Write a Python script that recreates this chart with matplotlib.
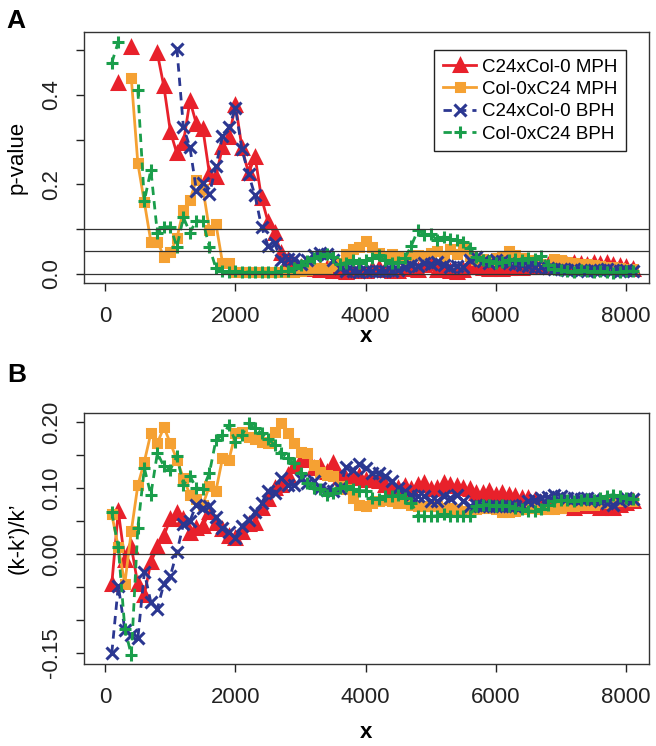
import numpy as np
import matplotlib
matplotlib.use("Agg")
import matplotlib.pyplot as plt

plt.rcParams['font.family'] = ['Liberation Sans', 'DejaVu Sans']

nan = np.nan
x = np.arange(100, 8200, 100)

# panel A: p-values
red_p = [nan, 0.427, nan, 0.507, nan, nan, nan, 0.493, 0.419, 0.318,
         0.269, 0.293, 0.387, 0.335, 0.323, 0.223, 0.217, 0.284, 0.305, 0.378,
         0.281, 0.225, 0.262, 0.169, 0.116, 0.090, 0.047, 0.031, 0.020, 0.015,
         0.012, 0.010, 0.008, 0.012, 0.006, 0.005, 0.004, 0.005, 0.008, 0.006,
         0.010, 0.012, 0.008, 0.005, 0.006, 0.010, 0.012, 0.008, 0.020, 0.025,
         0.008, 0.016, 0.006, 0.004, 0.008, 0.014, 0.016, 0.012, 0.010, 0.012,
         0.010, 0.012, 0.014, 0.012, 0.016, 0.018, 0.015, 0.020, 0.024, 0.022,
         0.020, 0.024, 0.022, 0.020, 0.024, 0.022, 0.025, 0.020, 0.018, 0.014, 0.010]
orange_p = [nan, nan, nan, 0.437, 0.247, 0.160, 0.072, 0.072, 0.038, 0.049,
            0.079, 0.143, 0.165, 0.210, 0.190, 0.098, 0.111, 0.025, 0.025, 0.004,
            0.003, 0.003, 0.003, 0.003, 0.003, 0.003, 0.003, 0.004, 0.004, 0.005,
            0.008, 0.012, 0.012, 0.010, 0.018, 0.025, 0.045, 0.056, 0.060, 0.074,
            0.060, 0.046, 0.040, 0.044, 0.038, 0.034, 0.040, 0.042, 0.040, 0.046,
            0.050, 0.040, 0.055, 0.044, 0.056, 0.040, 0.030, 0.034, 0.030, 0.035,
            0.040, 0.050, 0.042, 0.035, 0.030, 0.028, 0.022, 0.020, 0.032, 0.030,
            0.026, 0.024, 0.022, 0.022, 0.020, 0.018, 0.016, 0.014, 0.012, 0.010, 0.010]
blue_p = [nan, nan, nan, nan, nan, nan, nan, nan, nan, nan,
          0.503, 0.328, 0.283, 0.186, 0.202, 0.178, 0.241, 0.308, 0.328, 0.370,
          0.278, 0.223, 0.175, 0.105, 0.062, 0.068, 0.031, 0.034, 0.032, 0.022,
          0.030, 0.042, 0.046, 0.044, 0.030, 0.012, 0.006, 0.005, 0.004, 0.005,
          0.006, 0.005, 0.007, 0.006, 0.008, 0.015, 0.020, 0.018, 0.024, 0.022,
          0.027, 0.020, 0.016, 0.018, 0.014, 0.030, 0.038, 0.028, 0.025, 0.031,
          0.028, 0.025, 0.022, 0.020, 0.018, 0.016, 0.015, 0.012, 0.010, 0.010,
          0.008, 0.010, 0.008, 0.007, 0.009, 0.008, 0.010, 0.008, 0.007, 0.008, 0.006]
green_p = [0.472, 0.519, nan, nan, 0.410, 0.163, 0.232, 0.090, 0.105, 0.105,
           0.060, 0.126, 0.092, 0.119, 0.117, 0.059, 0.012, 0.005, 0.004, 0.005,
           0.003, 0.004, 0.003, 0.004, 0.003, 0.004, 0.005, 0.006, 0.012, 0.020,
           0.028, 0.035, 0.040, 0.045, 0.038, 0.022, 0.025, 0.030, 0.024, 0.030,
           0.035, 0.042, 0.030, 0.025, 0.026, 0.035, 0.062, 0.097, 0.087, 0.088,
           0.075, 0.083, 0.077, 0.075, 0.072, 0.058, 0.038, 0.030, 0.028, 0.025,
           0.026, 0.030, 0.034, 0.030, 0.036, 0.034, 0.040, 0.020, 0.010, 0.008,
           0.006, 0.004, 0.008, 0.005, 0.003, 0.006, 0.004, 0.002, 0.004, 0.005, 0.006]

# panel B: (k-k')/k'
red_k = [-0.045, 0.065, -0.009, 0.011, -0.046, -0.062, -0.012, 0.010, 0.028, 0.053,
         0.062, 0.053, 0.032, 0.040, 0.043, 0.063, 0.047, 0.038, 0.028, 0.025,
         0.033, 0.045, 0.047, 0.070, 0.083, 0.100, 0.105, 0.120, 0.133, 0.143,
         0.145, 0.130, 0.133, 0.125, 0.138, 0.117, 0.113, 0.115, 0.118, 0.112,
         0.112, 0.110, 0.105, 0.100, 0.100, 0.103, 0.098, 0.105, 0.108, 0.098,
         0.100, 0.108, 0.105, 0.103, 0.100, 0.098, 0.093, 0.093, 0.095, 0.090,
         0.092, 0.090, 0.088, 0.085, 0.085, 0.082, 0.078, 0.075, 0.078, 0.074,
         0.072, 0.070, 0.075, 0.072, 0.074, 0.070, 0.072, 0.070, 0.075, 0.078, 0.080]
orange_k = [0.060, 0.010, -0.045, 0.035, 0.104, 0.140, 0.183, 0.168, 0.192, 0.168,
            0.143, 0.115, 0.090, 0.083, 0.075, 0.103, 0.096, 0.145, 0.143, 0.183,
            0.185, 0.178, 0.175, 0.170, 0.168, 0.185, 0.198, 0.183, 0.168, 0.155,
            0.153, 0.135, 0.125, 0.120, 0.118, 0.103, 0.098, 0.085, 0.075, 0.072,
            0.078, 0.080, 0.082, 0.080, 0.078, 0.078, 0.075, 0.073, 0.073, 0.073,
            0.073, 0.070, 0.070, 0.068, 0.065, 0.065, 0.068, 0.070, 0.070, 0.068,
            0.063, 0.063, 0.065, 0.068, 0.070, 0.070, 0.068, 0.068, 0.068, 0.070,
            0.073, 0.073, 0.074, 0.075, 0.075, 0.077, 0.078, 0.080, 0.080, 0.082, 0.080]
blue_k = [-0.150, -0.048, -0.115, -0.123, -0.128, -0.028, -0.073, -0.083, -0.045, -0.033,
          0.003, 0.045, 0.050, 0.075, 0.069, 0.072, 0.056, 0.040, 0.034, 0.025,
          0.043, 0.052, 0.063, 0.077, 0.095, 0.093, 0.115, 0.105, 0.105, 0.113,
          0.108, 0.110, 0.100, 0.097, 0.095, 0.100, 0.132, 0.127, 0.137, 0.130,
          0.123, 0.123, 0.118, 0.110, 0.100, 0.095, 0.090, 0.088, 0.088, 0.080,
          0.080, 0.088, 0.085, 0.090, 0.080, 0.073, 0.075, 0.073, 0.072, 0.073,
          0.073, 0.072, 0.073, 0.075, 0.080, 0.082, 0.085, 0.087, 0.090, 0.088,
          0.085, 0.085, 0.084, 0.085, 0.083, 0.080, 0.078, 0.075, 0.080, 0.085, 0.083]
green_k = [0.063, 0.010, -0.113, -0.153, 0.040, 0.130, 0.090, 0.153, 0.133, 0.128,
           0.148, 0.105, 0.118, 0.100, 0.099, 0.123, 0.173, 0.180, 0.195, 0.170,
           0.180, 0.198, 0.191, 0.183, 0.175, 0.165, 0.153, 0.145, 0.138, 0.123,
           0.108, 0.100, 0.098, 0.090, 0.093, 0.100, 0.103, 0.098, 0.096, 0.096,
           0.085, 0.083, 0.088, 0.088, 0.090, 0.085, 0.078, 0.058, 0.058, 0.057,
           0.058, 0.060, 0.058, 0.058, 0.057, 0.058, 0.073, 0.075, 0.075, 0.072,
           0.074, 0.073, 0.070, 0.068, 0.065, 0.065, 0.068, 0.075, 0.080, 0.082,
           0.082, 0.080, 0.082, 0.084, 0.082, 0.085, 0.088, 0.090, 0.088, 0.085, 0.084]

labels = ["C24xCol-0 MPH", "Col-0xC24 MPH", "C24xCol-0 BPH", "Col-0xC24 BPH"]
colors = ["#E8212B", "#F5A133", "#2B3791", "#1A9E4B"]
markers = ["^", "s", "x", "+"]
msizes = [8, 6, 8, 9]
dashes = ["-", "-", (0, (3, 2.2)), (0, (3, 2.2))]

fig = plt.figure(figsize=(6.56, 7.46), dpi=100)
axA = fig.add_axes([84 / 656, 1 - 283 / 746, 565 / 656, 251 / 746])
axB = fig.add_axes([84 / 656, 1 - 664.3 / 746, 565 / 656, 251.6 / 746])

for ax, series in [(axA, [red_p, orange_p, blue_p, green_p]),
                   (axB, [red_k, orange_k, blue_k, green_k])]:
    for y, lab, c, m, ms, ls in zip(series, labels, colors, markers, msizes, dashes):
        ax.plot(x, y, color=c, marker=m, markersize=ms, markeredgewidth=2.2,
                linewidth=2, linestyle=ls, label=lab, clip_on=True)
    ax.set_xlim(-327, 8352)
    ax.set_xticks([0, 2000, 4000, 6000, 8000])
    ax.tick_params(direction='out', length=5.5, width=1, labelsize=16, colors='#222222')
    ax.tick_params(axis='x', pad=11)
    ax.tick_params(axis='y', pad=10, labelrotation=90)
    for s in ax.spines.values():
        s.set_linewidth(1)
        s.set_color('#333333')

# panel A
axA.set_ylim(-0.0208, 0.5408)
axA.set_yticks([0, 0.1, 0.2, 0.3, 0.4, 0.5])
axA.set_yticklabels(["0.0", "", "0.2", "", "0.4", ""], va='center')
for h in [0, 0.05, 0.1]:
    axA.axhline(h, color='#333333', linewidth=0.9, zorder=5)
axA.set_ylabel("p-value", fontsize=16, va='center')
axA.yaxis.set_label_coords(-0.118, 0.5)
axA.set_xlabel("x", fontsize=16, fontweight='bold')
axA.xaxis.set_label_coords(0.5, -0.215)
axA.xaxis.label.set_va('center')
leg = axA.legend(loc='upper right', bbox_to_anchor=(0.959, 0.928), fontsize=13.5,
                 frameon=True, fancybox=False, edgecolor='#222222', framealpha=1,
                 handlelength=1.8, handletextpad=0.3, labelspacing=0.28,
                 borderpad=0.45, borderaxespad=0)
leg.get_frame().set_linewidth(1)

# panel B
axB.set_ylim(-0.1671, 0.2141)
axB.set_yticks([-0.15, -0.10, -0.05, 0, 0.05, 0.10, 0.15, 0.20])
axB.set_yticklabels(["-0.15", "", "", "0.00", "", "0.10", "", "0.20"], va='center')
axB.axhline(0, color='#333333', linewidth=0.9, zorder=5)
axB.set_ylabel("(k-k\u2019)/k\u2019", fontsize=16, va='center')
axB.yaxis.set_label_coords(-0.116, 0.5)
axB.set_xlabel("x", fontsize=16, fontweight='bold')
axB.xaxis.set_label_coords(0.5, -0.273)
axB.xaxis.label.set_va('center')

fig.text(6 / 656, 1 - 28.3 / 746, "A", fontsize=19, fontweight='bold', va='baseline')
fig.text(7 / 656, 1 - 381.7 / 746, "B", fontsize=19, fontweight='bold', va='baseline')

fig.savefig("out.png", dpi=100)
